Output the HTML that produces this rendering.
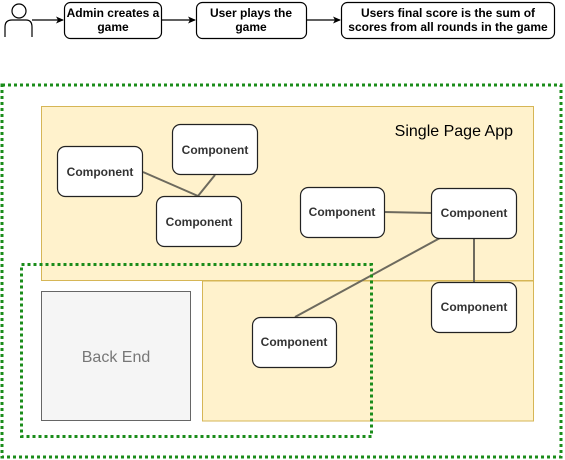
<!DOCTYPE html>
<html><head><meta charset="utf-8"><style>html,body{margin:0;padding:0;background:#fff;width:565px;height:460px;overflow:hidden}svg{display:block}</style></head><body>
<svg width="565" height="460" xmlns="http://www.w3.org/2000/svg" font-family="Liberation Sans, Arial, sans-serif">
<defs><marker id="ar" markerWidth="8" markerHeight="8" refX="7" refY="4" orient="auto" markerUnits="userSpaceOnUse"><path d="M0,0.5 L8,4 L0,7.5 L2,4 Z" fill="#000"/></marker></defs>
<circle cx="19" cy="11" r="7" fill="#fff" stroke="#000" stroke-width="1.2"/>
<path d="M5,37 L5,27 Q5,20 12,20 L26,20 Q32,20 32,27 L32,37" fill="#fff" stroke="#000" stroke-width="1.2"/>
<line x1="32" y1="20" x2="63" y2="20" stroke="#000" stroke-width="1.2" marker-end="url(#ar)"/>
<rect x="64.5" y="2.5" width="97" height="36" rx="6" fill="#fff" stroke="#000" stroke-width="1.2"/>
<text x="113" y="17" text-anchor="middle" font-size="12" font-weight="bold">Admin creates a</text>
<text x="113" y="31" text-anchor="middle" font-size="12" font-weight="bold">game</text>
<line x1="162" y1="20" x2="195" y2="20" stroke="#000" stroke-width="1.2" marker-end="url(#ar)"/>
<rect x="196.5" y="2.5" width="110" height="36" rx="6" fill="#fff" stroke="#000" stroke-width="1.2"/>
<text x="251" y="17" text-anchor="middle" font-size="12" font-weight="bold">User plays the</text>
<text x="251" y="31" text-anchor="middle" font-size="12" font-weight="bold">game</text>
<line x1="307" y1="20" x2="340" y2="20" stroke="#000" stroke-width="1.2" marker-end="url(#ar)"/>
<rect x="341.5" y="2.5" width="213" height="36" rx="6" fill="#fff" stroke="#000" stroke-width="1.2"/>
<text x="448" y="17" text-anchor="middle" font-size="12" font-weight="bold">Users final score is the sum of</text>
<text x="448" y="31" text-anchor="middle" font-size="12" font-weight="bold">scores from all rounds in the game</text>
<rect x="2" y="85" width="559" height="372" fill="none" stroke="#1a8c1a" stroke-width="3" stroke-dasharray="3,3"/>
<rect x="41.5" y="106.5" width="492" height="174" fill="#fff2cc" stroke="#d6b656"/>
<rect x="202.5" y="281" width="331" height="140" fill="#fff2cc" stroke="#d6b656"/>
<line x1="202.5" y1="281" x2="533.5" y2="281" stroke="#d6b656"/>
<text x="513" y="136" text-anchor="end" font-size="16" fill="#000">Single Page App</text>
<rect x="41.5" y="291.5" width="149" height="129" fill="#f5f5f5" stroke="#666"/>
<text x="116" y="362" text-anchor="middle" font-size="16" fill="#777">Back End</text>
<g stroke="#6d6a5e" stroke-width="2">
<line x1="143" y1="172" x2="198" y2="196"/>
<line x1="215" y1="175" x2="198" y2="196"/>
<line x1="384" y1="212" x2="432" y2="213"/>
<line x1="440" y1="238" x2="295" y2="317"/>
<line x1="474" y1="238" x2="474" y2="282"/>
</g>
<rect x="21.5" y="264.5" width="350" height="172" fill="none" stroke="#1a8c1a" stroke-width="3" stroke-dasharray="3,3"/>
<g fill="#fff" stroke="#222" stroke-width="1.2">
<rect x="57.5" y="146.5" width="85" height="50" rx="8"/>
<rect x="172.5" y="124.5" width="85" height="50" rx="8"/>
<rect x="156.5" y="196.5" width="85" height="50" rx="8"/>
<rect x="300.5" y="187.5" width="84" height="50" rx="8"/>
<rect x="431.5" y="188.5" width="85" height="50" rx="8"/>
<rect x="431.5" y="282.5" width="85" height="50" rx="8"/>
<rect x="252.5" y="317.5" width="84" height="50" rx="8"/>
</g>
<g font-size="12" font-weight="bold" fill="#333" text-anchor="middle">
<text x="100" y="176">Component</text>
<text x="215" y="154">Component</text>
<text x="199" y="226">Component</text>
<text x="342" y="216">Component</text>
<text x="474" y="217">Component</text>
<text x="474" y="311">Component</text>
<text x="294" y="346">Component</text>
</g>
</svg>
</body></html>
